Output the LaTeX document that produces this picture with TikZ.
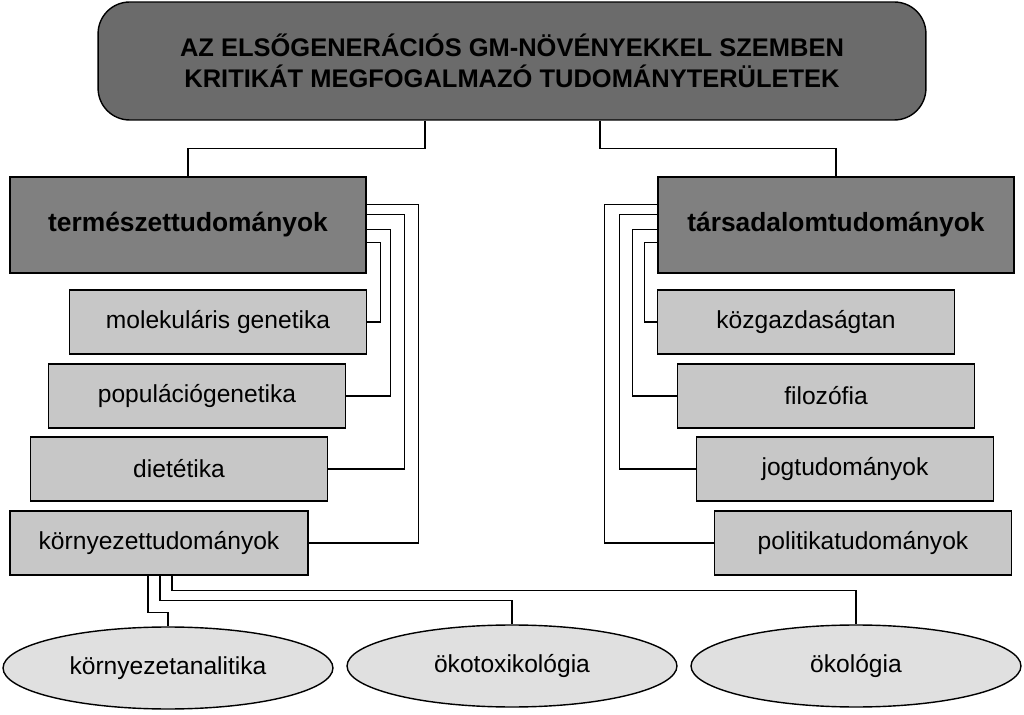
\documentclass[tikz,border=0pt]{standalone}
\usepackage{fontspec}
\setmainfont{Liberation Sans}
\usetikzlibrary{calc,shapes.geometric}
\begin{document}
\begin{tikzpicture}[x=0.02cm,y=-0.02cm,thick,
    topbox/.style={draw,rounded corners=18pt,fill=black!58,minimum width=16.56cm,minimum height=2.36cm,align=center,font=\fontsize{14.5}{18}\selectfont\bfseries},
    mainbox/.style={draw,fill=black!50,minimum width=7.12cm,minimum height=1.92cm,font=\fontsize{15}{18}\selectfont\bfseries},
    subbox/.style={draw,fill=black!22,minimum width=5.94cm,minimum height=1.28cm,font=\fontsize{14}{17}\selectfont},
    leaf/.style={draw,ellipse,fill=black!12,minimum width=6.6cm,minimum height=1.64cm,font=\fontsize{14}{17}\selectfont},
    link/.style={line width=0.8pt}]
\useasboundingbox (0,0) rectangle (1024,715);

\node[topbox] (top) at (512,61) {AZ ELSŐGENERÁCIÓS GM-NÖVÉNYEKKEL SZEMBEN\\KRITIKÁT MEGFOGALMAZÓ TUDOMÁNYTERÜLETEK};
\node[mainbox] (tt) at (188,225) {természettudományok};
\node[mainbox] (ta) at (836,225) {társadalomtudományok};

\node[subbox] (mg) at (218,322) {molekuláris genetika};
\node[subbox] (pg) at (197,396) {populációgenetika};
\node[subbox] (di) at (179,469) {dietétika};
\node[subbox,minimum width=5.96cm] (kt) at (159,543) {környezettudományok};

\node[subbox] (kg) at (806,322) {közgazdaságtan};
\node[subbox] (fi) at (826,396) {filozófia};
\node[subbox] (jt) at (845,469) {jogtudományok};
\node[subbox] (pt) at (863,543) {politikatudományok};

\node[leaf] (ka) at (168,668) {környezetanalitika};
\node[leaf] (ot) at (512,666) {ökotoxikológia};
\node[leaf] (ok) at (856,666) {ökológia};

% top to main boxes
\draw[link] ($(top.south)+(-87,0)$) -- ++(0,28) -| (tt.north);
\draw[link] ($(top.south)+(88,0)$) -- ++(0,28) -| (ta.north);

% natural sciences
\draw[link] ($(tt.north east)+(0,28)$) -- ++(52,0) |- (kt.east);
\draw[link] ($(tt.north east)+(0,38)$) -- ++(38,0) |- (di.east);
\draw[link] ($(tt.north east)+(0,53)$) -- ++(24,0) |- (pg.east);
\draw[link] ($(tt.north east)+(0,66)$) -- ++(14,0) |- (mg.east);

% social sciences
\draw[link] ($(ta.north west)+(0,28)$) -- ++(-53,0) |- (pt.west);
\draw[link] ($(ta.north west)+(0,38)$) -- ++(-38,0) |- (jt.west);
\draw[link] ($(ta.north west)+(0,53)$) -- ++(-25,0) |- (fi.west);
\draw[link] ($(ta.north west)+(0,66)$) -- ++(-13,0) |- (kg.west);

% environmental sciences
\draw[link] ($(kt.south)+(-11,0)$) -- ++(0,37) -| (ka.north);
\draw[link] ($(kt.south)+(1,0)$) -- ++(0,25) -| (ot.north);
\draw[link] ($(kt.south)+(13,0)$) -- ++(0,15) -| (ok.north);
\end{tikzpicture}
\end{document}
